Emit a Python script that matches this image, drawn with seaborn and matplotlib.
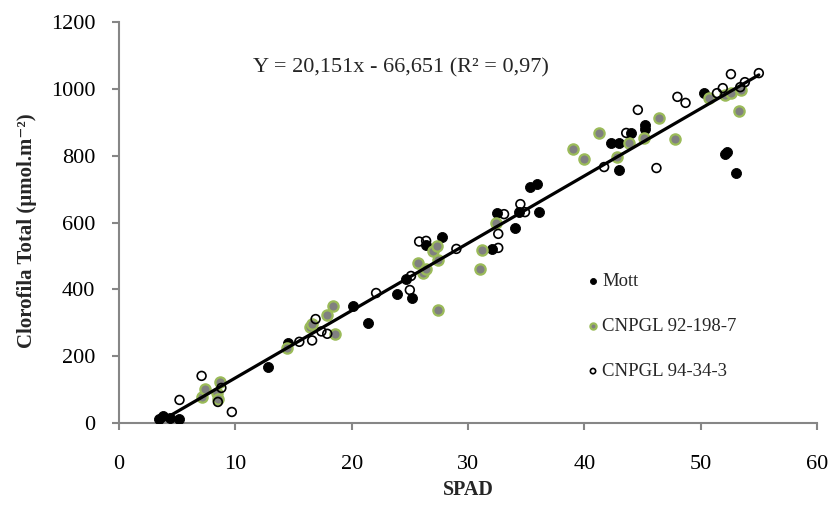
import numpy as np
import pandas as pd
import matplotlib
matplotlib.use("Agg")
import matplotlib.pyplot as plt
import seaborn as sns

# ---- data ----
mott_x = [3.4, 3.8, 4.4, 5.2, 12.8, 14.5, 20.1, 21.4, 23.9, 24.7, 25.2, 26.4, 27.8,
          32.1, 32.5, 34.0, 34.4, 35.3, 35.9, 36.1, 42.3, 43.0, 43.0, 44.0, 45.2,
          45.2, 50.3, 52.1, 52.3, 53.0]
mott_y = [12, 21, 15, 12, 168, 239, 350, 299, 386, 431, 374, 533, 556,
          521, 628, 583, 630, 706, 715, 631, 838, 838, 757, 867, 880,
          892, 987, 805, 812, 748]

c92_x = [7.1, 7.4, 8.4, 8.5, 8.7, 14.4, 16.4, 16.6, 17.9, 18.4, 18.6, 25.7, 26.1,
         26.4, 27.0, 27.3, 27.4, 27.4, 31.0, 31.2, 32.4, 39.0, 40.0, 41.3, 42.8,
         43.8, 45.1, 46.4, 47.8, 50.7, 52.1, 52.6, 53.3, 53.5]
c92_y = [79, 101, 90, 72, 124, 224, 288, 296, 323, 350, 266, 479, 449,
         461, 515, 530, 488, 338, 461, 518, 598, 819, 789, 867, 796,
         838, 853, 912, 849, 973, 981, 987, 933, 996]

c94_x = [5.2, 7.1, 8.5, 8.8, 9.7, 15.5, 16.6, 16.9, 17.4, 17.9, 22.1, 25.0, 25.1,
         25.8, 26.4, 29.0, 32.6, 32.6, 33.1, 34.5, 34.9, 41.7, 43.6, 44.6, 46.2,
         48.0, 48.7, 51.4, 51.9, 52.6, 53.4, 53.8, 55.0]
c94_y = [69, 141, 63, 105, 33, 243, 247, 311, 274, 267, 389, 398, 440,
         543, 545, 521, 566, 524, 625, 655, 631, 766, 868, 937, 763,
         976, 958, 987, 1002, 1044, 1005, 1020, 1047]

series_names = ["Mott", "CNPGL 92-198-7", "CNPGL 94-34-3"]

# trendline (from the equation shown on the chart)
slope = 20.151
intercept = -66.651
trend_x = [3.8, 55.0]
equation_text = "Y = 20,151x - 66,651 (R² = 0,97)"

x_ticks = [0, 10, 20, 30, 40, 50, 60]
y_ticks = [0, 200, 400, 600, 800, 1000, 1200]
x_label = "SPAD"
y_label = "Clorofila Total (µmol.m⁻²)"

# ---- build frames ----
df = pd.concat([
    pd.DataFrame({"SPAD": mott_x, "Clorofila": mott_y, "Genótipo": series_names[0]}),
    pd.DataFrame({"SPAD": c92_x, "Clorofila": c92_y, "Genótipo": series_names[1]}),
    pd.DataFrame({"SPAD": c94_x, "Clorofila": c94_y, "Genótipo": series_names[2]}),
], ignore_index=True)
trend_df = pd.DataFrame({"SPAD": trend_x,
                         "Clorofila": [slope * v + intercept for v in trend_x]})

sns.set_style("white")
plt.rcParams['font.family'] = ['Liberation Serif', 'DejaVu Serif']

W, H = 834, 523
fig = plt.figure(figsize=(W / 100, H / 100), dpi=100)
ax = fig.add_axes([119 / W, 1 - 423 / H, 698 / W, 401 / H])

styles = {
    series_names[0]: dict(color="black", edgecolor="black", s=52, linewidth=0.6),
    series_names[1]: dict(color="#808080", edgecolor="#9BBB59", s=55, linewidth=1.6),
    series_names[2]: dict(color="none", edgecolor="black", s=40, linewidth=1.2),
}
for i, name in enumerate(series_names):
    sub = df[df["Genótipo"] == name]
    sns.scatterplot(data=sub, x="SPAD", y="Clorofila", ax=ax, label=name,
                    zorder=3 + i, **styles[name])

sns.lineplot(data=trend_df, x="SPAD", y="Clorofila", ax=ax, color="black",
             linewidth=2.3, zorder=7, legend=False)

ax.set_xlim(0, 60)
ax.set_ylim(0, 1200)
ax.set_xticks(x_ticks)
ax.set_yticks(y_ticks)

gray = "#868686"
for side in ["top", "right"]:
    ax.spines[side].set_visible(False)
for side in ["left", "bottom"]:
    ax.spines[side].set_color(gray)
    ax.spines[side].set_linewidth(1.5)

ax.tick_params(axis="both", which="major", direction="out", color=gray,
               width=1.5, length=5, labelsize=16, labelcolor="black")
ax.tick_params(axis="x", pad=18, bottom=True)
ax.tick_params(axis="y", pad=12, left=True)

ax.set_xlabel(x_label, fontsize=14.5, fontweight="bold")
ax.set_ylabel(y_label, fontsize=15, fontweight="bold")
ax.xaxis.set_label_coords(0.5, -0.142)
ax.yaxis.set_label_coords(-0.117, 0.48)

ax.text(24.2, 1062, equation_text, fontsize=16, ha="center", va="center")

leg = ax.legend(loc="upper left", bbox_to_anchor=((578 - 119) / 698, (423 - 263) / 401),
                frameon=False, fontsize=13.5, handlelength=0.6, handletextpad=0.2,
                labelspacing=1.5, borderpad=0, markerscale=0.6)

fig.savefig("out.png", dpi=100)
